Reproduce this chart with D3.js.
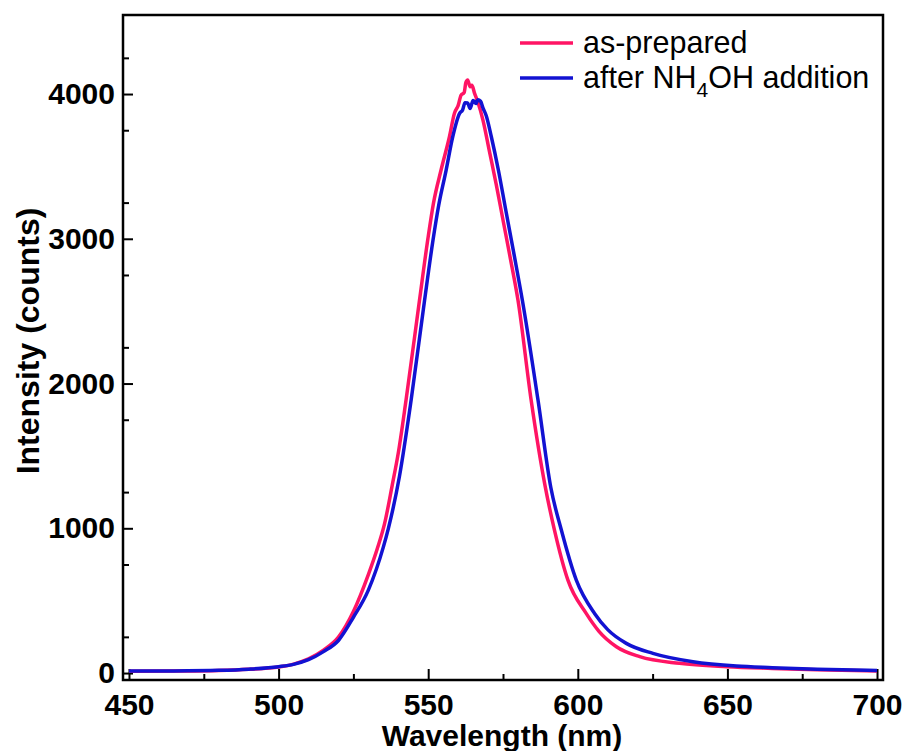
<!DOCTYPE html>
<html>
<head>
<meta charset="utf-8">
<script src="https://cdn.jsdelivr.net/npm/d3@7"></script>
<style>
  body { margin: 0; background: #fff; }
  text { font-family: "Liberation Sans", Arial, sans-serif; }
</style>
</head>
<body>
<div id="chart"></div>
<script>
// wavelength (nm), intensity (counts)
var asPrepared = [
  [450,12],[465,14],[480,18],[490,26],[500,42],[505,62],[510,98],[515,158],
  [520,248],[525,425],[530,680],[533,860],[535.4,1030],[538,1300],[540,1520],[542.6,1886],
  [547.1,2577],[549.9,3000],[551.8,3250],[554.3,3475],[557.1,3705],[558.8,3869],
  [560,3920],[561,3993],[562,4010],[562.6,4080],[563.2,4097],[564,4050],[564.6,4060],
  [565.5,4005],[566.5,3950],[568.3,3820],[570.5,3600],[572.7,3380],[575,3130],
  [577.5,2860],[580,2577],[584.4,1886],[589,1300],[592.2,988],[596.7,642],
  [602.8,412],[607,290],[612.9,182],[620.7,113],[634,67],[650,44],[665,32],
  [680,22],[700,14]
];
var afterNH4OH = [
  [450,14],[465,15],[480,19],[490,27],[500,44],[505,60],[510,92],[515,148],
  [520,225],[525,385],[530,573],[535,870],[536.7,1000],[540.4,1360],[544.3,1886],
  [548.8,2577],[551.6,2990],[553.5,3230],[556,3475],[558.2,3705],[560.5,3867],
  [561.5,3890],[562.3,3940],[563.2,3938],[564,3900],[565,3955],[566,3935],
  [566.6,3960],[567.5,3950],[568.3,3905],[569.4,3850],[571.1,3705],[573.5,3470],
  [576,3190],[578.8,2880],[581.6,2560],[586.7,1886],[591,1280],[594.5,988],[599.5,642],
  [605.6,412],[610,300],[616.2,205],[625.1,136],[638.5,78],[653,48],[665,37],
  [680,26],[700,18]
];
var xTicks = [450,500,550,600,650,700];
var yTicks = [0,1000,2000,3000,4000];
var seriesNames = ["as-prepared", "after NH4OH addition"];
var seriesColors = ["#ff1464", "#1212d2"];

var width = 906, height = 751;
var plotLeft = 123, plotRight = 883, plotTop = 15, plotBottom = 680;

var svg = d3.select("#chart").append("svg")
  .attr("width", width)
  .attr("height", height);

var x = d3.scaleLinear().domain([448, 702]).range([plotLeft, plotRight]);
var y = d3.scaleLinear().domain([-48, 4546]).range([plotBottom, plotTop]);

// minor ticks
var xMinor = d3.range(475, 701, 50);
var yMinor = d3.range(250, 4501, 500);

var xAxis = d3.axisBottom(x).tickValues(xTicks).tickSize(-11).tickPadding(14).tickFormat(d3.format("d"));
var xAxisMinor = d3.axisBottom(x).tickValues(xMinor).tickSize(-6).tickFormat("");
var yAxis = d3.axisLeft(y).tickValues(yTicks).tickSize(-10).tickPadding(8).tickFormat(d3.format("d"));
var yAxisMinor = d3.axisLeft(y).tickValues(yMinor).tickSize(-6).tickFormat("");

function styleAxis(g) {
  g.select(".domain").remove();
  g.selectAll("line").attr("stroke", "#000").attr("stroke-width", 2);
  g.selectAll("text").attr("fill", "#000")
    .style("font-size", "30px").style("font-weight", "bold");
}

svg.append("g").attr("transform", "translate(0," + plotBottom + ")").call(xAxis).call(styleAxis);
svg.append("g").attr("transform", "translate(0," + plotBottom + ")").call(xAxisMinor).call(styleAxis);
svg.append("g").attr("transform", "translate(" + plotLeft + ",0)").call(yAxis).call(styleAxis);
svg.append("g").attr("transform", "translate(" + plotLeft + ",0)").call(yAxisMinor).call(styleAxis);

// lines
var line = d3.line()
  .x(function(d) { return x(d[0]); })
  .y(function(d) { return y(d[1]); })
  .curve(d3.curveMonotoneX);

[asPrepared, afterNH4OH].forEach(function(s, i) {
  svg.append("path")
    .datum(s)
    .attr("fill", "none")
    .attr("stroke", seriesColors[i])
    .attr("stroke-width", 3.5)
    .attr("stroke-linejoin", "round")
    .attr("d", line);
});

// frame
svg.append("rect")
  .attr("x", plotLeft).attr("y", plotTop)
  .attr("width", plotRight - plotLeft).attr("height", plotBottom - plotTop)
  .attr("fill", "none").attr("stroke", "#000").attr("stroke-width", 2.5);

// axis titles
svg.append("text")
  .attr("x", 502).attr("y", 746)
  .attr("text-anchor", "middle")
  .style("font-size", "30px").style("font-weight", "bold")
  .text("Wavelength (nm)");

svg.append("text")
  .attr("transform", "translate(39,341) rotate(-90)")
  .attr("text-anchor", "middle")
  .style("font-size", "32px").style("font-weight", "bold")
  .text("Intensity (counts)");

// legend
var legend = svg.append("g").attr("transform", "translate(520,43)");
seriesNames.forEach(function(name, i) {
  var g = legend.append("g").attr("transform", "translate(0," + (i * 35) + ")");
  g.append("line").attr("x1", 0).attr("x2", 53).attr("y1", 0).attr("y2", 0)
    .attr("stroke", seriesColors[i]).attr("stroke-width", 3.5);
  var t = g.append("text").attr("x", 63).attr("y", 10).style("font-size", "30.5px").attr("fill", "#000");
  if (i === 0) {
    t.text(name);
  } else {
    t.append("tspan").text("after NH");
    t.append("tspan").attr("dy", 9).style("font-size", "21px").text("4");
    t.append("tspan").attr("dy", -9).text("OH addition");
  }
});
</script>
</body>
</html>
